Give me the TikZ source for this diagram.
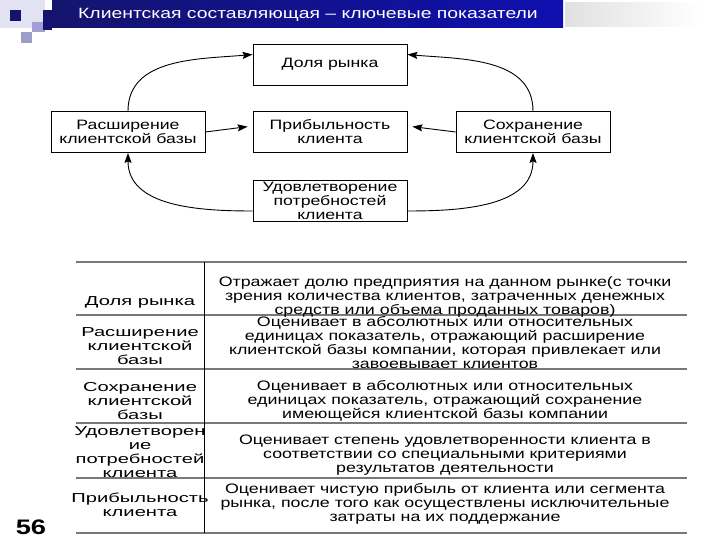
\documentclass[tikz,border=0pt]{standalone}
\usepackage{fontspec}
\setmainfont[FakeStretch=1.3]{Liberation Sans}
\newfontfamily\namefont[FakeStretch=1.55]{Liberation Sans}
\usepackage{tikz}
\usetikzlibrary{shapes,arrows,positioning,calc,arrows.meta}

\definecolor{barnavy}{RGB}{20,20,110}
\definecolor{barblue}{RGB}{15,15,175}
\definecolor{rulegray}{RGB}{120,120,120}
\definecolor{lavlight}{RGB}{226,226,242}
\definecolor{lavmid}{RGB}{160,160,210}

\begin{document}
\begin{tikzpicture}[x=1pt, y=1pt, node distance=68pt, auto,
    block/.style={rectangle, draw, line width=0.8pt, align=center, minimum width=154pt, minimum height=41pt, inner sep=0.5pt, font=\fontsize{13.6}{14}\selectfont},
    arrow/.style={->, line width=0.9pt, >={Stealth[length=10pt, width=7pt, inset=1.5pt]}},
    cell/.style={align=center, inner sep=0pt, font=\fontsize{13.7}{14}\selectfont},
    namecell/.style={cell, font=\namefont\fontsize{13}{14}\selectfont}]

    \useasboundingbox (0,0) rectangle (720,540);

    % header
    \fill[lavlight] (0,512) rectangle (45,540);
    \fill[barnavy] (10,519) rectangle (21,530);
    \fill[lavmid] (32,508) rectangle (45,518);
    \fill[lavmid!90!gray] (21,497) rectangle (32,508);
    \fill[barnavy] (43,510) rectangle (52,530);
    \shade[left color=barnavy, right color=barblue] (52,512) rectangle (563,540);
    \shade[left color=black!12, right color=white] (565,513) rectangle (700,537);
    \node[text=white, font=\fontsize{14.9}{17}\selectfont] (title) at (308,525) {Клиентская составляющая – ключевые показатели};

    % diagram
    \node[block] (share) at (330,475.5) {Доля рынка};
    \node[block, below of=share, node distance=67.5pt] (profit) {Прибыльность\\клиента};
    \node[block, below of=profit, node distance=69pt] (satisfy) {Удовлетворение\\потребностей\\клиента};
    \node[block, left of=profit, node distance=202pt] (expand) {Расширение\\клиентской базы};
    \node[block, right of=profit, node distance=203pt] (retain) {Сохранение\\клиентской базы};

    \draw[arrow] (expand.north) to[out=90, in=185] ([yshift=10pt]share.west);
    \draw[arrow] (retain.north) to[out=90, in=-5] ([yshift=10pt]share.east);
    \draw[arrow, shorten >=5pt] (expand.east) -- ([yshift=6pt]profit.west);
    \draw[arrow, shorten >=5pt] (retain.west) -- ([yshift=6pt]profit.east);
    \draw[arrow] ([yshift=-10pt]satisfy.west) to[out=180, in=-90] (expand.south);
    \draw[arrow] ([yshift=-10pt]satisfy.east) to[out=0, in=-90] (retain.south);

    % table
    \draw[rulegray, line width=1.5pt] (76,278) -- (687,278);
    \draw[rulegray, line width=1.5pt] (76,225) -- (687,225);
    \draw[rulegray, line width=1.5pt] (76,171) -- (687,171);
    \draw[rulegray, line width=1.5pt] (76,117) -- (687,117);
    \draw[rulegray, line width=1.5pt] (76,62) -- (687,62);
    \draw[rulegray, line width=1.5pt] (76,7) -- (687,7);
    \draw[line width=0.9pt] (204,278) -- (204,7);

    \node[namecell] (name1) at (140,238) {Доля рынка};
    \node[cell] (desc1) at (445,243) {Отражает долю предприятия на данном рынке(с точки\\зрения количества клиентов, затраченных денежных\\средств или объема проданных товаров)};
    \node[namecell] (name2) at (140,194) {Расширение\\клиентской\\базы};
    \node[cell] (desc2) at (445,197) {Оценивает в абсолютных или относительных\\единицах показатель, отражающий расширение\\клиентской базы компании, которая привлекает или\\завоевывает клиентов};
    \node[namecell] (name3) at (140,139) {Сохранение\\клиентской\\базы};
    \node[cell] (desc3) at (445,139) {Оценивает в абсолютных или относительных\\единицах показатель, отражающий сохранение\\имеющейся клиентской базы компании};
    \node[namecell] (name4) at (140,88) {Удовлетворен\\ие\\потребностей\\клиента};
    \node[cell] (desc4) at (445,85) {Оценивает степень удовлетворенности клиента в\\соответствии со специальными критериями\\результатов деятельности};
    \node[namecell] (name5) at (140,35.5) {Прибыльность\\клиента};
    \node[cell] (desc5) at (445,36.5) {Оценивает чистую прибыль от клиента или сегмента\\рынка, после того как осуществлены исключительные\\затраты на их поддержание};

    \node[inner sep=0pt, font=\fontsize{21}{24}\selectfont\bfseries] (page) at (31,13) {56};
\end{tikzpicture}
\end{document}
